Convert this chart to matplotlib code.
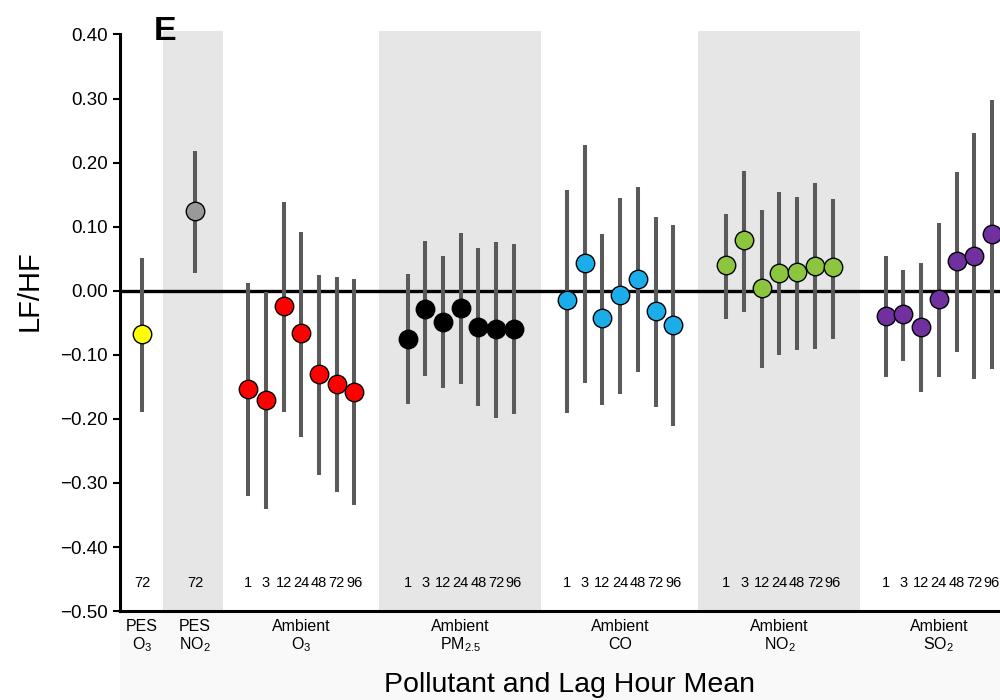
import matplotlib.pyplot as plt
import matplotlib.transforms as mtransforms
from matplotlib.patches import Rectangle
import numpy as np

plt.rcParams['font.family'] = ['Liberation Sans', 'DejaVu Sans']
plt.rcParams['mathtext.fontset'] = 'custom'
plt.rcParams['mathtext.rm'] = 'Liberation Sans'
plt.rcParams['mathtext.it'] = 'Liberation Sans'
plt.rcParams['axes.unicode_minus'] = True

# Group names (line 1 / line 2) and lags
group_top = ['PES', 'PES', 'Ambient', 'Ambient', 'Ambient', 'Ambient', 'Ambient']
group_bottom = ['O$_3$', 'NO$_2$', 'O$_3$', 'PM$_{2.5}$', 'CO', 'NO$_2$', 'SO$_2$']
group_colors = ['#ffff00', '#999999', '#ff0000', '#000000', '#1badea', '#8cc63e', '#7030a0']
group_lags = [[72], [72]] + [[1, 3, 12, 24, 48, 72, 96]] * 5
shaded_groups = [1, 3, 5]

# Point estimates
est = [
    [-0.067],
    [0.125],
    [-0.154, -0.171, -0.024, -0.066, -0.130, -0.145, -0.158],
    [-0.075, -0.028, -0.048, -0.027, -0.056, -0.060, -0.059],
    [-0.015, 0.043, -0.043, -0.007, 0.018, -0.031, -0.053],
    [0.040, 0.079, 0.004, 0.028, 0.029, 0.039, 0.037],
    [-0.039, -0.037, -0.056, -0.013, 0.046, 0.055, 0.088],
]
# Lower confidence bounds
lower = [
    [-0.189],
    [0.027],
    [-0.320, -0.341, -0.190, -0.229, -0.288, -0.314, -0.335],
    [-0.176, -0.133, -0.151, -0.145, -0.180, -0.198, -0.192],
    [-0.191, -0.144, -0.178, -0.161, -0.127, -0.181, -0.211],
    [-0.044, -0.033, -0.120, -0.101, -0.092, -0.091, -0.075],
    [-0.134, -0.110, -0.158, -0.134, -0.095, -0.138, -0.122],
]
# Upper confidence bounds
upper = [
    [0.051],
    [0.218],
    [0.012, -0.002, 0.138, 0.091, 0.025, 0.022, 0.018],
    [0.026, 0.077, 0.055, 0.090, 0.067, 0.076, 0.073],
    [0.158, 0.228, 0.088, 0.145, 0.162, 0.115, 0.103],
    [0.120, 0.187, 0.126, 0.154, 0.146, 0.168, 0.144],
    [0.055, 0.032, 0.044, 0.106, 0.185, 0.247, 0.298],
]

fig = plt.figure(figsize=(10, 7), dpi=100)

# faint backdrop below the axis
fig.patches.append(Rectangle((0.12, 0.0), 0.88, 0.127, transform=fig.transFigure,
                             facecolor='#f9f9f9', edgecolor='none', zorder=-1))

ax = fig.add_axes([0.12, 0.127, 0.918, 0.8283])
ax.set_xlim(-1.24, 50.6)
ax.set_ylim(-0.5, 0.405)

# x positions: consecutive within a group, two empty slots between groups
positions = []
start = 0
for lags in group_lags:
    positions.append(np.arange(start, start + len(lags)))
    start += len(lags) + 2

# shaded bands
for gi in shaded_groups:
    p = positions[gi]
    left = p[0] - (1.8 if len(p) == 1 else 1.6)
    ax.axvspan(left, p[-1] + 1.55, color='#e6e6e6', lw=0, zorder=0)

ax.axhline(0, color='black', lw=2.4, zorder=1)

label_tr = mtransforms.blended_transform_factory(ax.transData, fig.transFigure)
for gi, p in enumerate(positions):
    ax.vlines(p, lower[gi], upper[gi], color='#5a5a5a', lw=2.9, zorder=2)
    ax.plot(p, est[gi], 'o', ms=13.3, mfc=group_colors[gi], mec='black',
            mew=1.0, zorder=3)
    for xi, lag in zip(p, group_lags[gi]):
        ax.text(xi, -0.456, str(lag), ha='center', va='center', fontsize=10.5)
    cx = p.mean()
    ax.text(cx, 0.1057, group_top[gi], transform=label_tr, ha='center',
            va='center', fontsize=11.5, clip_on=False)
    ax.text(cx, 0.0786, group_bottom[gi], transform=label_tr, ha='center',
            va='center', fontsize=11.5, clip_on=False)

ax.set_yticks(np.arange(-0.5, 0.41, 0.1))
ax.set_yticklabels(['\u2212%.2f' % abs(v) if v < -1e-9 else '%.2f' % abs(v)
                    for v in np.arange(-0.5, 0.41, 0.1)])
ax.tick_params(axis='y', labelsize=13.5, width=1.5, length=5, direction='out')
ax.set_xticks([])

ax.spines['top'].set_visible(False)
ax.spines['right'].set_visible(False)
ax.spines['left'].set_linewidth(2.2)
ax.spines['bottom'].set_linewidth(2.2)
ax.spines['left'].set_bounds(-0.5, 0.40)

fig.text(0.03, 0.585, 'LF/HF', rotation=90, ha='center', va='center', fontsize=21)
fig.text(0.569, 0.021, 'Pollutant and Lag Hour Mean', ha='center', va='center',
         fontsize=20.5)
fig.text(0.154, 0.955, 'E', ha='left', va='center', fontsize=24.5, fontweight='bold')

fig.savefig('out.png', dpi=100)
